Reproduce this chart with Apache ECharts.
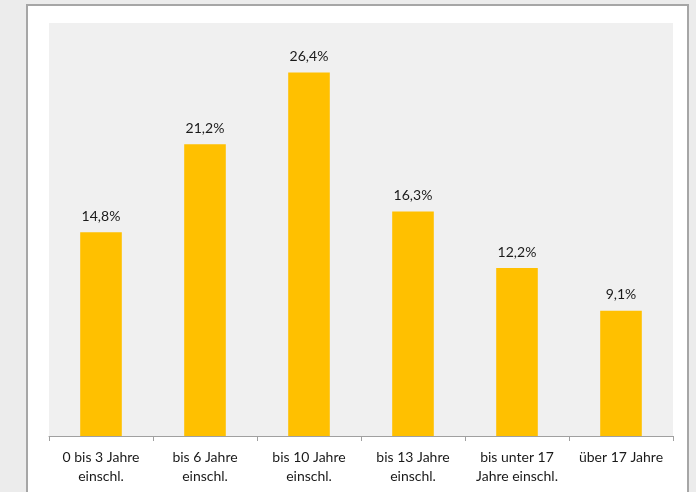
<!DOCTYPE html>
<html><head><meta charset="utf-8">
<script src="https://cdn.jsdelivr.net/npm/echarts@6/dist/echarts.min.js"></script>
<style>html,body{margin:0;padding:0;background:#ececec;}#c{width:696px;height:492px;}</style>
</head><body><div id="c"></div>
<script>
const categories = ['0 bis 3 Jahre\neinschl.', 'bis 6 Jahre\neinschl.', 'bis 10 Jahre\neinschl.', 'bis 13 Jahre\neinschl.', 'bis unter 17\nJahre einschl.', 'über 17 Jahre'];
const values = [14.8, 21.2, 26.4, 16.3, 12.2, 9.1];

const chart = echarts.init(document.getElementById('c'));
chart.setOption({
  backgroundColor: '#ececec',
  animation: false,
  graphic: [{
    type: 'rect', z: -10, silent: true,
    shape: { x: 27, y: 5, width: 661, height: 500 },
    style: { fill: '#ffffff', stroke: '#a6a6a6', lineWidth: 2 }
  }],
  grid: { left: 49, right: 23, top: 23, bottom: 56, show: true, backgroundColor: '#f0f0f0', borderWidth: 0 },
  xAxis: {
    type: 'category', data: categories,
    axisLine: { lineStyle: { color: '#a0a0a0', width: 1 } },
    axisTick: { show: true, length: 5, lineStyle: { color: '#a0a0a0' } },
    axisLabel: { color: '#1a1a1a', fontFamily: 'Lato', fontSize: 14, lineHeight: 19, margin: 12, interval: 0 }
  },
  yAxis: { type: 'value', min: 0, max: 30, show: false, splitLine: { show: false } },
  series: [{
    type: 'bar', data: values, barWidth: '40%',
    itemStyle: { color: '#FFC000' },
    label: {
      show: true, position: 'top', distance: 9,
      color: '#1a1a1a', fontFamily: 'Lato', fontSize: 14,
      formatter: p => p.value.toFixed(1).replace('.', ',') + '%'
    }
  }]
});
</script></body></html>
